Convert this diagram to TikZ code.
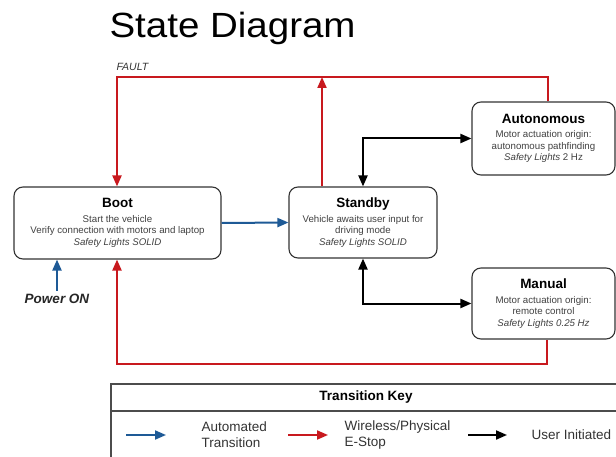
\documentclass[tikz,border=0pt]{standalone}
\usepackage{fontspec}
\setmainfont{Liberation Sans}
\newfontfamily\titlefont[FakeStretch=1.1]{Liberation Sans}
\usetikzlibrary{arrows.meta}
\definecolor{stopred}{RGB}{200,25,30}
\definecolor{autoblue}{RGB}{30,90,150}
\newcommand*{\headsize}{\fontsize{13.5}{15}\selectfont\bfseries}
\newcommand*{\bodysize}{\fontsize{9.7}{11.5}\selectfont}
\newcommand*{\keysize}{\fontsize{13.5}{16}\selectfont}
\tikzstyle{state} = [
    draw=black!80,
    line width=1.1pt,
    rectangle,
    rounded corners=9pt,
    align=center,
    text=black!75,
    font=\bodysize,
    inner sep=2pt
]
\tikzstyle{link} = [line width=2pt, -{Triangle[length=11pt, width=9pt]}]
\tikzstyle{automated} = [link, draw=autoblue]
\tikzstyle{estop} = [link, draw=stopred]
\tikzstyle{initiated} = [link, draw=black]
\tikzstyle{both ways} = [initiated, {Triangle[length=11pt, width=9pt]}-{Triangle[length=11pt, width=9pt]}]
\tikzstyle{key} = [anchor=west, align=left, font=\keysize, text=black!80]

\begin{document}
\begin{tikzpicture}[x=1pt, y=-1pt]
    \useasboundingbox (0, 0) rectangle (616, 457);

    % Nodes.
    \node (title) [anchor=base west, font=\titlefont\fontsize{35}{40}\selectfont] at (106, 38) {State Diagram};
    \node (fault label) [anchor=west, font=\fontsize{10.5}{12}\selectfont\itshape, text=black!80] at (113, 67) {FAULT};

    \node (boot) [state, minimum width=207pt, minimum height=72pt] at (117.5, 223)
        {{\headsize\color{black} Boot}\\[3pt] Start the vehicle\\ Verify connection with motors and laptop\\ \textit{Safety Lights SOLID}};
    \node (standby) [state, minimum width=148pt, minimum height=71pt] at (363, 222.5)
        {{\headsize\color{black} Standby}\\[3pt] Vehicle awaits user input for\\ driving mode\\ \textit{Safety Lights SOLID}};
    \node (autonomous) [state, minimum width=143pt, minimum height=73pt] at (543.5, 138.5)
        {{\headsize\color{black} Autonomous}\\[3pt] Motor actuation origin:\\ autonomous pathfinding\\ \textit{Safety Lights} 2 Hz};
    \node (manual) [state, minimum width=143pt, minimum height=71pt] at (543.5, 303.5)
        {{\headsize\color{black} Manual}\\[3pt] Motor actuation origin:\\ remote control\\ \textit{Safety Lights 0.25 Hz}};

    \node (power on) [font=\fontsize{13.5}{15}\selectfont\bfseries\itshape, text=black!85] at (57, 299) {Power ON};

    \coordinate (fault left) at (117, 77);
    \coordinate (reset left) at (117, 364);

    % Paths.
    \draw [estop] ([xshift=4.5pt]autonomous.north) |- (fault left) -- (fault left |- boot.north);
    \draw [estop] ([xshift=-41pt]standby.north) -- ([xshift=-41pt]standby.north |- fault left);
    \draw [estop] ([xshift=3.5pt]manual.south) |- (reset left) -- (reset left |- boot.south);

    \draw [automated] (boot.east) -- (standby.west);
    \draw [automated] (power on.north) -- (power on.north |- boot.south);

    \draw [both ways] (autonomous.west) -| (standby.north);
    \draw [both ways] (manual.west) -| (standby.south);

    % Key.
    \begin{scope}
        \clip (0, 0) rectangle (616, 457);
        \draw [draw=black!70, line width=1.1pt] (111, 384) rectangle (640, 480);
        \draw [draw=black!70, line width=1.1pt] (111, 411) -- (640, 411);
    \end{scope}

    \node (key title) [font=\keysize\bfseries] at (366, 397) {Transition Key};
    \node (automated key) [key] at (198, 435) {Automated\\Transition};
    \node (estop key) [key] at (341, 435) {Wireless/Physical\\E-Stop};
    \node (initiated key) [key] at (528, 435) {User Initiated};

    \draw [automated] ([xshift=-72pt]automated key.west) -- ++(40, 0);
    \draw [estop] ([xshift=-53pt]estop key.west) -- ++(40, 0);
    \draw [initiated] ([xshift=-60pt]initiated key.west) -- ++(39, 0);
\end{tikzpicture}
\end{document}
